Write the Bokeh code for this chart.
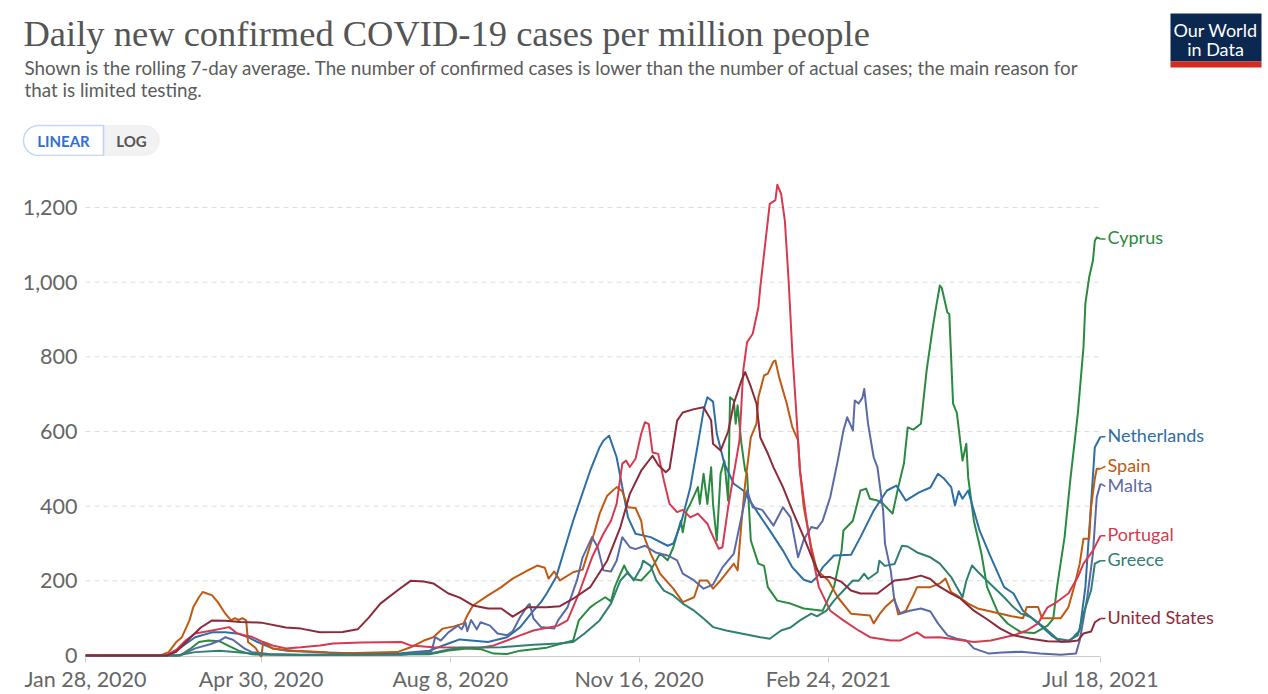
import pandas as pd
from bokeh.plotting import figure
from bokeh.models import (Range1d, FixedTicker, NumeralTickFormatter, Label,
                          BoxAnnotation, Arrow)
from bokeh.embed import file_html
from bokeh.resources import INLINE

# ---------------- data ----------------
countries = ["Cyprus", "Netherlands", "Spain", "Malta", "Portugal", "Greece", "United States"]
colors = ["#2a8a3f", "#2d6ea5", "#c05a12", "#5a6aa8", "#d73a50", "#2f8073", "#8c2a3a"]

spain_dates = ["2020-01-28","2020-03-08","2020-03-12","2020-03-16","2020-03-19","2020-03-23","2020-03-25","2020-03-28","2020-03-30",
    "2020-04-04","2020-04-07","2020-04-11","2020-04-14","2020-04-16","2020-04-18","2020-04-20","2020-04-22","2020-04-23","2020-04-27",
    "2020-04-30","2020-05-01","2020-05-06","2020-05-17","2020-06-03","2020-06-07","2020-07-11","2020-07-18","2020-07-25","2020-07-30",
    "2020-08-04","2020-08-10","2020-08-15","2020-08-17","2020-08-20","2020-08-28","2020-09-04","2020-09-10","2020-09-18","2020-09-23",
    "2020-09-27","2020-09-29","2020-10-02","2020-10-05","2020-10-12","2020-10-17","2020-10-23","2020-10-26","2020-10-30","2020-11-04",
    "2020-11-07","2020-11-10","2020-11-14","2020-11-17","2020-11-18","2020-11-22","2020-11-27","2020-12-04","2020-12-09","2020-12-15",
    "2020-12-18","2020-12-22","2020-12-25","2020-12-29","2021-01-05","2021-01-07","2021-01-09","2021-01-11","2021-01-14","2021-01-17",
    "2021-01-18","2021-01-21","2021-01-23","2021-01-26","2021-01-27","2021-01-29","2021-02-02","2021-02-05","2021-02-08","2021-02-09",
    "2021-02-11","2021-02-15","2021-02-18","2021-02-24","2021-03-01","2021-03-08","2021-03-18","2021-03-20","2021-03-23","2021-03-26",
    "2021-03-31","2021-04-02","2021-04-06","2021-04-10","2021-04-12","2021-04-19","2021-04-24","2021-04-27","2021-04-30","2021-05-03",
    "2021-05-09","2021-05-14","2021-05-21","2021-06-01","2021-06-07","2021-06-09","2021-06-15","2021-06-17","2021-06-27","2021-07-01",
    "2021-07-04","2021-07-07","2021-07-09","2021-07-12","2021-07-13","2021-07-15","2021-07-16","2021-07-18"]
spain_values = [0,1,9,36,49,94,129,156,170,
    161,143,112,94,100,95,100,94,36,20,
    -4,36,19,13,9,5,9,22,40,49,
    72,78,86,107,134,161,183,206,228,241,
    235,206,225,201,223,230,326,380,428,451,
    440,397,395,361,326,273,219,179,143,156,
    201,201,179,201,246,228,353,460,584,621,
    692,750,755,788,790,745,675,611,576,495,
    397,290,228,201,156,112,107,86,110,129,
    152,110,120,161,183,183,193,206,170,161,
    139,126,118,105,100,130,130,100,100,129,
    183,246,313,313,397,474,500,500]

netherlands_dates = ["2020-01-28","2020-03-08","2020-03-12","2020-03-18","2020-03-26","2020-04-04","2020-04-11","2020-04-18","2020-04-23",
    "2020-04-28","2020-05-06","2020-05-13","2020-06-03","2020-06-22","2020-07-13","2020-07-28","2020-08-07","2020-08-13","2020-08-28",
    "2020-09-07","2020-09-14","2020-09-21","2020-09-25","2020-09-28","2020-10-03","2020-10-12","2020-10-21","2020-10-26","2020-10-28",
    "2020-10-31","2020-11-04","2020-11-07","2020-11-10","2020-11-14","2020-11-22","2020-12-01","2020-12-04","2020-12-08","2020-12-13",
    "2020-12-17","2020-12-20","2020-12-22","2020-12-25","2020-12-27","2020-12-31","2021-01-05","2021-01-10","2021-01-18","2021-01-24",
    "2021-01-31","2021-02-05","2021-02-11","2021-02-15","2021-02-18","2021-02-21","2021-02-27","2021-03-08","2021-03-13","2021-03-20",
    "2021-03-27","2021-04-01","2021-04-06","2021-04-13","2021-04-19","2021-04-23","2021-04-26","2021-04-30","2021-05-02","2021-05-04",
    "2021-05-06","2021-05-09","2021-05-12","2021-05-15","2021-05-21","2021-05-28","2021-06-02","2021-06-07","2021-06-15","2021-06-22",
    "2021-06-27","2021-07-02","2021-07-07","2021-07-10","2021-07-13","2021-07-15","2021-07-18"]
netherlands_values = [0,0,3,20,49,62,62,58,49,
    36,19,13,8,5,6,13,32,43,36,
    49,76,120,143,166,210,361,495,558,575,
    589,531,451,370,326,317,294,300,353,451,
    567,656,692,680,594,514,460,442,380,335,
    281,236,203,196,210,236,268,270,317,388,
    442,455,415,437,450,487,475,451,402,440,
    420,442,388,335,263,183,166,120,86,54,
    36,40,67,183,406,558,586]

malta_dates = ["2020-01-28","2020-03-18","2020-03-26","2020-04-03","2020-04-08","2020-04-11","2020-04-15","2020-04-21","2020-04-25",
    "2020-05-05","2020-05-21","2020-07-13","2020-07-29","2020-07-31","2020-08-03","2020-08-07","2020-08-12","2020-08-14","2020-08-16",
    "2020-08-17","2020-08-19","2020-08-22","2020-08-24","2020-08-29","2020-09-02","2020-09-07","2020-09-10","2020-09-14","2020-09-18",
    "2020-09-19","2020-09-21","2020-09-25","2020-10-02","2020-10-04","2020-10-09","2020-10-14","2020-10-17","2020-10-22","2020-10-25",
    "2020-10-28","2020-11-01","2020-11-04","2020-11-07","2020-11-11","2020-11-14","2020-11-19","2020-11-25","2020-12-01","2020-12-06",
    "2020-12-09","2020-12-15","2020-12-20","2020-12-25","2020-12-30","2021-01-05","2021-01-09","2021-01-12","2021-01-15","2021-01-20",
    "2021-01-26","2021-01-31","2021-02-04","2021-02-08","2021-02-11","2021-02-15","2021-02-18","2021-02-21","2021-02-25","2021-03-01",
    "2021-03-04","2021-03-06","2021-03-09","2021-03-10","2021-03-12","2021-03-14","2021-03-15","2021-03-17","2021-03-20","2021-03-22",
    "2021-03-25","2021-03-26","2021-03-29","2021-03-31","2021-04-03","2021-04-08","2021-04-14","2021-04-19","2021-04-23","2021-04-28",
    "2021-05-03","2021-05-08","2021-05-12","2021-05-20","2021-05-27","2021-06-06","2021-06-16","2021-06-27","2021-07-05","2021-07-07",
    "2021-07-11","2021-07-14","2021-07-16","2021-07-18"]
malta_values = [0,0,19,30,40,49,42,19,9,
    3,1,2,10,49,40,62,80,70,89,
    65,95,70,89,80,59,54,65,103,134,
    138,99,76,72,94,129,201,263,317,290,
    228,225,254,317,290,285,294,275,268,255,
    219,201,179,190,236,273,370,442,397,390,
    348,397,370,263,310,344,340,361,424,522,
    603,638,603,683,675,690,714,621,531,504,
    388,299,228,147,112,120,126,118,86,54,
    45,40,19,5,8,10,5,2,5,40,
    156,273,424,460]

portugal_dates = ["2020-01-28","2020-03-11","2020-03-16","2020-03-21","2020-03-26","2020-04-04","2020-04-13","2020-04-17","2020-04-21",
    "2020-04-25","2020-05-01","2020-05-06","2020-05-13","2020-05-21","2020-05-31","2020-06-07","2020-06-22","2020-07-13","2020-07-18",
    "2020-07-30","2020-08-24","2020-08-31","2020-09-07","2020-09-14","2020-09-21","2020-10-04","2020-10-09","2020-10-15","2020-10-22",
    "2020-10-28","2020-11-01","2020-11-04","2020-11-07","2020-11-09","2020-11-11","2020-11-14","2020-11-17","2020-11-19","2020-11-21",
    "2020-11-23","2020-11-26","2020-11-29","2020-12-02","2020-12-06","2020-12-09","2020-12-13","2020-12-17","2020-12-22","2020-12-24",
    "2020-12-28","2020-12-30","2021-01-02","2021-01-05","2021-01-08","2021-01-10","2021-01-12","2021-01-15","2021-01-18","2021-01-19",
    "2021-01-21","2021-01-23","2021-01-24","2021-01-27","2021-01-28","2021-01-30","2021-02-01","2021-02-03","2021-02-05","2021-02-07",
    "2021-02-09","2021-02-12","2021-02-15","2021-02-19","2021-02-25","2021-03-04","2021-03-12","2021-03-18","2021-03-29","2021-04-03",
    "2021-04-12","2021-04-16","2021-04-24","2021-05-12","2021-05-21","2021-06-02","2021-06-09","2021-06-15","2021-06-20","2021-06-24",
    "2021-07-01","2021-07-06","2021-07-09","2021-07-14","2021-07-18"]
portugal_values = [0,0,15,40,59,67,76,60,54,
    50,36,27,19,22,27,32,35,36,27,
    22,21,27,40,54,67,80,94,166,263,
    326,361,406,514,522,505,527,594,625,620,
    544,540,469,406,384,390,370,380,353,330,
    286,290,397,487,576,764,839,862,933,986,
    1076,1165,1210,1220,1261,1237,1165,1004,809,656,
    495,380,280,183,120,94,67,49,40,40,
    62,48,49,36,40,54,67,86,129,140,
    166,210,246,281,321]

greece_dates = ["2020-01-28","2020-03-16","2020-03-26","2020-04-08","2020-04-19","2020-04-30","2020-05-21","2020-07-13","2020-07-28",
    "2020-08-04","2020-08-13","2020-09-04","2020-09-21","2020-10-04","2020-10-12","2020-10-18","2020-10-26","2020-11-01","2020-11-06",
    "2020-11-10","2020-11-13","2020-11-17","2020-11-18","2020-11-22","2020-11-25","2020-11-29","2020-12-04","2020-12-09","2020-12-15",
    "2020-12-20","2020-12-25","2021-01-01","2021-01-09","2021-01-19","2021-01-24","2021-01-30","2021-02-04","2021-02-09","2021-02-15",
    "2021-02-18","2021-02-23","2021-02-27","2021-03-04","2021-03-09","2021-03-12","2021-03-15","2021-03-17","2021-03-22","2021-03-23",
    "2021-03-26","2021-03-31","2021-04-04","2021-04-07","2021-04-12","2021-04-19","2021-04-24","2021-04-30","2021-05-03","2021-05-06",
    "2021-05-08","2021-05-11","2021-05-14","2021-05-18","2021-05-21","2021-05-28","2021-06-02","2021-06-06","2021-06-11","2021-06-18",
    "2021-06-25","2021-07-01","2021-07-06","2021-07-09","2021-07-13","2021-07-15","2021-07-18"]
greece_values = [0,0,9,13,8,3,2,3,5,
    13,21,22,29,32,36,59,94,139,201,
    223,201,236,254,240,201,174,161,139,120,
    99,76,67,59,49,45,67,75,94,112,
    105,120,147,174,201,200,219,205,223,254,
    240,245,294,292,276,263,246,210,183,156,
    200,241,225,205,190,156,129,112,103,76,
    45,40,54,112,174,246,254]

cyprus_dates = ["2020-01-28","2020-03-18","2020-03-24","2020-03-28","2020-04-02","2020-04-08","2020-04-13","2020-04-18","2020-04-25",
    "2020-05-21","2020-07-28","2020-08-07","2020-08-17","2020-08-24","2020-08-31","2020-09-07","2020-09-14","2020-09-28","2020-10-12",
    "2020-10-15","2020-10-21","2020-10-24","2020-10-29","2020-11-01","2020-11-03","2020-11-06","2020-11-08","2020-11-10","2020-11-13",
    "2020-11-17","2020-11-22","2020-11-27","2020-12-01","2020-12-04","2020-12-08","2020-12-09","2020-12-11","2020-12-13","2020-12-17",
    "2020-12-18","2020-12-20","2020-12-22","2020-12-24","2020-12-25","2020-12-27","2020-12-29","2020-12-31","2021-01-02","2021-01-03",
    "2021-01-05","2021-01-06","2021-01-07","2021-01-09","2021-01-11","2021-01-12","2021-01-14","2021-01-18","2021-01-21","2021-01-23",
    "2021-01-28","2021-02-04","2021-02-11","2021-02-21","2021-02-27","2021-03-03","2021-03-04","2021-03-09","2021-03-13","2021-03-16",
    "2021-03-18","2021-03-22","2021-03-25","2021-03-30","2021-04-02","2021-04-05","2021-04-07","2021-04-10","2021-04-14","2021-04-17",
    "2021-04-20","2021-04-22","2021-04-24","2021-04-25","2021-04-28","2021-04-29","2021-05-01","2021-05-03","2021-05-06","2021-05-08",
    "2021-05-09","2021-05-12","2021-05-16","2021-05-19","2021-05-25","2021-05-30","2021-06-06","2021-06-13","2021-06-20","2021-06-23",
    "2021-06-25","2021-06-29","2021-07-02","2021-07-06","2021-07-09","2021-07-10","2021-07-12","2021-07-14","2021-07-15","2021-07-16",
    "2021-07-18"]
cyprus_values = [0,0,20,36,40,38,25,13,3,
    1,3,13,19,17,5,4,13,21,40,
    94,129,140,156,145,183,219,241,219,205,
    201,228,273,255,290,361,330,388,406,451,
    406,487,406,504,406,308,487,522,415,692,
    683,621,670,568,495,487,308,246,240,183,
    147,139,126,120,183,281,335,361,442,447,
    420,415,406,380,451,514,611,605,621,763,
    870,933,991,985,919,915,675,650,522,567,
    477,361,273,183,112,85,62,60,80,99,
    183,317,469,648,826,943,1013,1058,1111,1120,
    1116]

us_dates = ["2020-01-28","2020-03-11","2020-03-16","2020-03-24","2020-03-29","2020-04-04","2020-04-11","2020-04-19","2020-04-30",
    "2020-05-13","2020-05-21","2020-05-31","2020-06-12","2020-06-20","2020-06-26","2020-07-02","2020-07-11","2020-07-18","2020-07-25",
    "2020-07-30","2020-08-07","2020-08-13","2020-08-20","2020-08-28","2020-09-04","2020-09-10","2020-09-18","2020-09-28","2020-10-05",
    "2020-10-12","2020-10-21","2020-10-30","2020-11-06","2020-11-11","2020-11-17","2020-11-23","2020-11-26","2020-11-30","2020-12-02",
    "2020-12-06","2020-12-09","2020-12-15","2020-12-20","2020-12-24","2020-12-25","2020-12-29","2021-01-02","2021-01-05","2021-01-09",
    "2021-01-11","2021-01-14","2021-01-17","2021-01-19","2021-01-23","2021-01-26","2021-01-31","2021-02-05","2021-02-11","2021-02-16",
    "2021-02-20","2021-02-25","2021-03-03","2021-03-08","2021-03-13","2021-03-22","2021-03-31","2021-04-07","2021-04-14","2021-04-19",
    "2021-04-23","2021-04-30","2021-05-05","2021-05-12","2021-05-19","2021-05-26","2021-06-02","2021-06-11","2021-06-20","2021-07-01",
    "2021-07-06","2021-07-09","2021-07-13","2021-07-15","2021-07-18"]
us_values = [0,0,10,50,75,94,93,90,88,
    75,72,62,63,70,102,139,174,200,198,
    193,166,155,134,126,126,104,129,129,132,
    152,183,254,344,433,495,535,510,491,500,
    629,651,660,665,630,567,549,600,675,736,
    759,720,675,584,541,504,451,388,317,254,
    210,210,197,174,166,166,201,205,214,205,
    187,166,152,120,97,72,54,45,38,37,
    40,59,64,89,99]

series_dates = [cyprus_dates, netherlands_dates, spain_dates, malta_dates, portugal_dates, greece_dates, us_dates]
series_values = [cyprus_values, netherlands_values, spain_values, malta_values, portugal_values, greece_values, us_values]

y_ticks = [0, 200, 400, 600, 800, 1000, 1200]
x_tick_dates = ["2020-01-28", "2020-04-30", "2020-08-08", "2020-11-16", "2021-02-24", "2021-07-18"]
x_tick_labels = ["Jan 28, 2020", "Apr 30, 2020", "Aug 8, 2020", "Nov 16, 2020", "Feb 24, 2021", "Jul 18, 2021"]

title_text = "Daily new confirmed COVID-19 cases per million people"
subtitle_lines = ["Shown is the rolling 7-day average. The number of confirmed cases is lower than the number of actual cases; the main reason for",
                  "that is limited testing."]

# ---------------- helpers ----------------
def ms(d):
    return pd.Timestamp(d).value / 1e6

W = 1268
HEAD_H = 156
GREY = "#666666"

# ---------------- header (page pixel coordinates) ----------------
h = figure(width=W, height=HEAD_H, x_range=Range1d(0, W), y_range=Range1d(HEAD_H, 0),
           toolbar_location=None, output_backend="svg", x_axis_location=None,
           y_axis_location=None, min_border=0, outline_line_color=None)
h.grid.visible = False

h.add_layout(Label(x=23, y=33, text=title_text, text_font="Liberation Serif", text_font_size="36.5px",
                   text_color="#555555", text_baseline="middle"))
for i, line in enumerate(subtitle_lines):
    h.add_layout(Label(x=24, y=67 + 22 * i, text=line, text_font="Lato", text_font_size="18.8px",
                       text_color="#5b5b5b", text_baseline="middle"))

h.add_layout(BoxAnnotation(left=103, right=159, top=125, bottom=155, fill_color="#f2f2f2", fill_alpha=1,
                           line_color="#dddddd", line_width=1, border_radius=(0, 15, 15, 0)))
h.add_layout(BoxAnnotation(left=23, right=103, top=125, bottom=155, fill_color="#ffffff", fill_alpha=1,
                           line_color="#3b7de0", line_width=1.5, border_radius=(15, 0, 0, 15)))
h.add_layout(Label(x=63, y=140, text="LINEAR", text_font="Lato", text_font_size="15px", text_font_style="bold",
                   text_color="#2f6fd6", text_align="center", text_baseline="middle"))
h.add_layout(Label(x=131, y=140, text="LOG", text_font="Lato", text_font_size="15px", text_font_style="bold",
                   text_color="#555555", text_align="center", text_baseline="middle"))

# logo
h.add_layout(BoxAnnotation(left=1170, right=1261, top=13, bottom=61, fill_color="#0b2850", fill_alpha=1, line_color=None))
h.add_layout(BoxAnnotation(left=1170, right=1261, top=61, bottom=67, fill_color="#d42b21", fill_alpha=1, line_color=None))
h.add_layout(Label(x=1215, y=29, text="Our World", text_font="Lato", text_font_size="18px",
                   text_color="white", text_align="center", text_baseline="middle"))
h.add_layout(Label(x=1215, y=48, text="in Data", text_font="Lato", text_font_size="18px",
                   text_color="white", text_align="center", text_baseline="middle"))

# ---------------- main chart ----------------
x0, x1 = ms("2020-01-28"), ms("2021-07-18")
FRAME_L, FRAME_R, DATA_R = 85, 1260, 1100           # page pixels
x_end = x1 + (FRAME_R - DATA_R) / (DATA_R - FRAME_L) * (x1 - x0)   # room for end labels

p = figure(width=W, height=694 - HEAD_H, x_axis_type="datetime",
           x_range=Range1d(x0, x_end), y_range=Range1d(-5.4, 1272.4),
           min_border_left=FRAME_L, min_border_right=W - FRAME_R, min_border_top=24, min_border_bottom=37,
           toolbar_location=None, output_backend="svg", outline_line_color=None)

p.grid.visible = False
# dashed horizontal grid lines, only across the data period
p.segment(x0=[x0] * (len(y_ticks) - 1), x1=[x1] * (len(y_ticks) - 1), y0=y_ticks[1:], y1=y_ticks[1:],
          line_color="#dddddd", line_dash="5 4", line_width=1)
# x axis baseline across the data period
p.segment(x0=[x0], x1=[x1], y0=[-2.7], y1=[-2.7], line_color="#cccccc", line_width=1)

p.yaxis.ticker = FixedTicker(ticks=y_ticks)
p.yaxis.formatter = NumeralTickFormatter(format="0,0")
p.yaxis.axis_line_color = None
p.yaxis.major_tick_line_color = None
p.yaxis.major_tick_out = 0
p.yaxis.major_tick_in = 0
p.yaxis.minor_tick_line_color = None
p.yaxis.major_label_text_font = "Lato"
p.yaxis.major_label_text_font_size = "21.5px"
p.yaxis.major_label_text_color = GREY
p.yaxis.major_label_standoff = 8

tick_ms = [ms(d) for d in x_tick_dates]
p.xaxis.ticker = FixedTicker(ticks=tick_ms)
p.xaxis.major_label_overrides = {t: lab for t, lab in zip(tick_ms, x_tick_labels)}
p.xaxis.axis_line_color = None
p.xaxis.major_tick_line_color = "#cccccc"
p.xaxis.minor_tick_line_color = None
p.xaxis.major_tick_in = 0
p.xaxis.major_tick_out = 5
p.xaxis.major_label_standoff = 3
p.xaxis.major_label_text_font = "Lato"
p.xaxis.major_label_text_font_size = "21.5px"
p.xaxis.major_label_text_color = GREY

for name, c, ds, vs in zip(countries, colors, series_dates, series_values):
    p.line(x=pd.to_datetime(ds), y=vs, line_color=c, line_width=2, line_join="round")

# end labels with simple dodging
ends = [vs[-1] for vs in series_values]
order = sorted(range(len(ends)), key=lambda i: -ends[i])
pos = {i: float(ends[i]) for i in order}
min_gap = 54
for _ in range(20):
    for a, b in zip(order[:-1], order[1:]):
        gap = pos[a] - pos[b]
        if gap < min_gap:
            d = (min_gap - gap) / 2
            pos[a] += d
            pos[b] -= d

day_ms = 86400000
for i, (name, c) in enumerate(zip(countries, colors)):
    p.add_layout(Arrow(end=None, x_start=x1, y_start=ends[i], x_end=x1 + 2.6 * day_ms,
                       y_end=pos[i], line_color=c, line_width=1.5))
    p.add_layout(Label(x=x1, y=pos[i] + 4, x_offset=7, text=name, text_font="Lato", text_font_size="18px",
                       text_color=c, text_baseline="middle"))

open("out.html", "w").write(file_html([h, p], INLINE))
